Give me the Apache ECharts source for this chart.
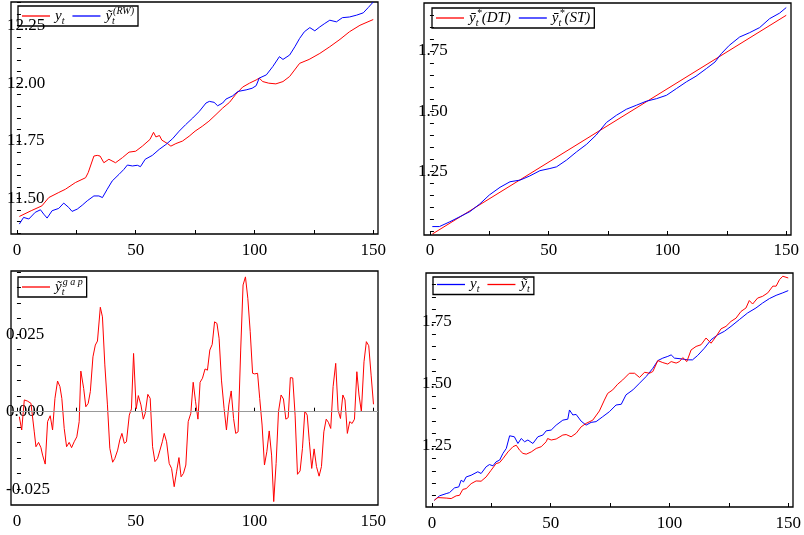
<!DOCTYPE html>
<html><head><meta charset="utf-8">
<script src="https://cdn.jsdelivr.net/npm/echarts@6/dist/echarts.min.js"></script>
<style>html,body{margin:0;padding:0;background:#fff}#c{width:804px;height:535px}</style>
</head><body><div id="c"></div>
<script>
// ---------- Panel 1: y_t and RW ----------
const p1YT = [1,6,10.5,13.4,17.6,20.4,24.6,28.9,30,32.4,33.8,35,36.6,38.7,41.5,44.4,47.2,50,52.8,56,57.5,58.5,60,61,63.4,64.8,66.9,69.7,72.5,75,78,80.8,83.8,86.6,89.5,92,95,97.9,100.7,102,103.5,106,109,112,114.8,119,123,127.5,131.7,136,140,144.4,150];
const p1YV = [11.422,11.447,11.468,11.504,11.526,11.540,11.569,11.590,11.612,11.684,11.687,11.684,11.655,11.670,11.655,11.677,11.701,11.705,11.727,11.756,11.787,11.767,11.773,11.753,11.738,11.727,11.738,11.749,11.770,11.792,11.813,11.835,11.864,11.892,11.917,11.950,11.983,12.000,12.014,12.022,12.007,12.000,11.997,12.007,12.029,12.086,12.103,12.129,12.158,12.190,12.223,12.251,12.276];
const p1RWT = [1,2.8,5,7.7,9.9,11.3,12.7,14.8,17.6,19.7,21.8,23.2,25.4,27.5,29.6,32.4,34.5,36,38,40.1,43,45,46.5,48.6,50.7,52,54,57,59.9,62.7,65.5,68.3,71,74,76.8,79.6,81,83,84.5,86.6,88,90.8,93,96.5,99,100.7,102,105,107.7,110.5,112,114.8,117,119,121,123.3,125.4,127.5,129.6,131.7,134.5,137,140,143,145.8,147.9,150];
const p1RWV = [11.389,11.418,11.411,11.440,11.451,11.432,11.415,11.447,11.457,11.480,11.461,11.444,11.454,11.471,11.490,11.511,11.511,11.504,11.540,11.576,11.605,11.626,11.645,11.641,11.644,11.638,11.670,11.687,11.713,11.734,11.759,11.792,11.820,11.849,11.878,11.914,11.921,11.917,11.902,11.914,11.931,11.945,11.964,11.971,11.978,11.989,12.022,12.036,12.072,12.115,12.103,12.122,12.158,12.194,12.223,12.241,12.227,12.244,12.259,12.273,12.266,12.284,12.287,12.295,12.305,12.328,12.352];
const p1Ticks = [11.35,11.40,11.45,11.50,11.55,11.60,11.65,11.70,11.75,11.80,11.85,11.90,11.95,12.00,12.05,12.10,12.15,12.20,12.25,12.30,12.35];
const p1Labels = [11.50,11.75,12.00,12.25];

// ---------- Panel 2: DT and ST trends ----------
const p2DTT = [1,150];
const p2DTV = [0.990,1.898];
const p2STT = [1,4,8.4,12.6,16.8,21,25,29.5,33.7,38,42,46.3,50.5,53.3,57.5,61.7,66,70,74.3,78.5,82.7,87,91,95.4,99.6,103.8,108,112,116.4,120,122.7,126,130.4,134.6,138.8,143,147.2,150];
const p2STV = [1.021,1.021,1.041,1.062,1.083,1.115,1.152,1.184,1.207,1.214,1.231,1.253,1.262,1.269,1.297,1.331,1.363,1.401,1.453,1.483,1.508,1.525,1.541,1.552,1.566,1.594,1.622,1.645,1.677,1.704,1.739,1.773,1.808,1.826,1.847,1.884,1.907,1.930];
const p2Ticks = [1.00,1.05,1.10,1.15,1.20,1.25,1.30,1.35,1.40,1.45,1.50,1.55,1.60,1.65,1.70,1.75,1.80,1.85,1.90];
const p2Labels = [1.25,1.50,1.75];

// ---------- Panel 3: gap ----------
const p3T = [1.0,2.0,3.1,4.5,5.9,7.3,8.0,9.1,10.1,10.8,11.9,12.9,14.0,15.0,16.0,17.1,18.1,18.9,19.9,20.9,22.0,23.0,24.1,25.2,26.2,26.9,28.1,29.0,30.0,30.9,32.0,33.0,33.9,35.1,36.0,37.0,38.1,39.1,40.3,41.2,42.4,43.3,44.2,45.2,46.1,47.3,48.2,49.1,50.2,51.1,52.2,53.2,54.0,55.1,56.1,57.1,58.1,59.2,60.2,61.2,62.0,63.0,64.1,65.1,66.2,67.2,68.2,69.1,70.1,71.1,72.1,73.2,74.2,75.2,76.2,77.1,78.1,79.2,80.2,81.2,82.2,83.2,84.2,85.1,86.1,87.2,88.2,89.2,90.2,91.2,92.1,93.1,94.2,95.2,96.2,97.2,98.2,99.2,100.1,101.3,102.2,103.2,104.2,105.2,106.2,107.2,108.1,109.1,110.1,111.2,112.2,113.2,114.2,115.1,116.1,117.1,118.1,119.2,120.2,121.2,122.2,123.1,124.1,125.1,126.1,127.2,128.2,129.2,130.2,131.1,132.1,133.1,134.2,135.2,136.2,137.2,138.1,139.1,140.1,141.1,142.1,143.1,144.0,145.0,146.1,147.1,148.1,149.1,150.1];
const p3V = [-0.0016,-0.0059,0.0038,0.0034,0.0027,-0.0065,-0.0113,-0.0099,-0.0116,-0.0140,-0.0169,-0.0032,-0.0013,-0.0059,0.0043,0.0099,0.0081,0.0043,-0.0054,-0.0113,-0.0099,-0.0116,-0.0097,-0.0081,-0.0032,0.0131,0.0075,0.0016,0.0027,0.0065,0.0177,0.0215,0.0228,0.0337,0.0306,0.0151,0.0022,-0.0118,-0.0163,-0.0151,-0.0124,-0.0091,-0.0070,-0.0102,-0.0097,-0.0011,0.0009,0.0188,0.0009,0.0052,0.0022,-0.0024,-0.0005,0.0056,0.0043,-0.0113,-0.0161,-0.0151,-0.0124,-0.0097,-0.0070,-0.0097,-0.0167,-0.0183,-0.0242,-0.0194,-0.0148,-0.0210,-0.0199,-0.0172,-0.0032,-0.0005,0.0095,0.0032,-0.0024,0.0095,0.0108,0.0138,0.0134,0.0199,0.0217,0.0290,0.0285,0.0237,0.0102,0.0011,-0.0059,0.0022,0.0067,-0.0022,-0.0070,-0.0065,0.0199,0.0409,0.0435,0.0366,0.0258,0.0124,0.0122,0.0124,0.0043,-0.0043,-0.0172,-0.0129,-0.0062,-0.0140,-0.0290,-0.0167,0.0000,0.0054,0.0041,-0.0024,-0.0019,0.0110,0.0109,-0.0011,-0.0202,-0.0191,-0.0118,0.0002,-0.0011,-0.0097,-0.0183,-0.0120,-0.0177,-0.0208,-0.0177,-0.0065,-0.0024,-0.0034,-0.0054,0.0081,0.0156,0.0005,-0.0022,0.0054,0.0038,-0.0070,-0.0032,-0.0038,-0.0024,0.0129,0.0054,0.0000,0.0161,0.0226,0.0213,0.0118,0.0024];
const p3Ticks = [-0.025,-0.020,-0.015,-0.010,-0.005,0,0.005,0.010,0.015,0.020,0.025,0.030,0.035,0.040,0.045];
const p3Labels = [-0.025,0,0.025];

// ---------- Panel 4: y_t and y~_t ----------
const p4YT = [1,3.2,6.0,7.4,9.5,11.3,12.3,13.3,14.4,16.5,19.3,20.7,22.8,24.2,25.7,27.0,28.5,29.9,31.3,32.7,34.7,36.2,37.6,39.0,40.4,42.5,44.6,46.7,48.1,50.2,52.3,55.1,57.2,57.9,59.3,60.7,62.8,64.9,67.0,69.1,71.9,74.7,77.5,79.7,81.7,84.6,87.4,90.2,93.0,95.1,97.2,99.3,100.7,102.1,104.9,107.7,109.7,111.9,114.7,117.5,120.3,123.1,125.9,129.4,132.9,136.4,139.2,142.1,144.9,147.7,150];
const p4YV = [1.031,1.049,1.058,1.062,1.081,1.085,1.112,1.105,1.125,1.132,1.146,1.139,1.166,1.175,1.170,1.186,1.193,1.220,1.240,1.291,1.287,1.260,1.280,1.267,1.274,1.260,1.287,1.294,1.311,1.314,1.334,1.354,1.358,1.395,1.375,1.377,1.350,1.334,1.345,1.348,1.368,1.388,1.415,1.418,1.456,1.476,1.503,1.530,1.563,1.594,1.604,1.611,1.617,1.604,1.601,1.597,1.597,1.615,1.644,1.678,1.698,1.712,1.732,1.759,1.786,1.806,1.826,1.844,1.857,1.867,1.876];
const p4TT = [1,2.5,6.0,8.1,10.2,11.6,13.0,14.4,16.5,18.6,20.7,22.8,24.9,27.0,28.5,29.9,32.0,34.1,35.5,36.9,38.3,39.7,41.8,43.9,46.0,48.1,48.7,50.2,52.3,55.1,56.5,58.6,60.7,62.8,64.9,67.7,70.5,72.6,74.0,76.1,78.2,80.3,83.1,85.3,87.4,89.5,91.6,93.0,95.1,97.2,99.3,100.7,102.8,104.2,105.6,107.3,109.1,111.2,113.3,115.4,117.5,119.6,121.7,123.8,125.9,128.0,130.1,132.2,133.6,135.0,137.1,139.2,141.4,143.5,144.9,146.3,147.7,150];
const p4TV = [1.031,1.042,1.040,1.038,1.049,1.051,1.075,1.078,1.098,1.109,1.108,1.125,1.152,1.179,1.183,1.199,1.226,1.247,1.253,1.233,1.220,1.217,1.226,1.240,1.247,1.267,1.280,1.274,1.278,1.294,1.296,1.287,1.301,1.327,1.341,1.354,1.391,1.435,1.462,1.476,1.499,1.516,1.543,1.543,1.526,1.547,1.543,1.550,1.594,1.586,1.580,1.590,1.584,1.590,1.606,1.590,1.637,1.651,1.658,1.685,1.664,1.691,1.722,1.732,1.752,1.765,1.792,1.806,1.836,1.822,1.846,1.853,1.867,1.894,1.894,1.920,1.934,1.927];
const p4Ticks = [1.05,1.10,1.15,1.20,1.25,1.30,1.35,1.40,1.45,1.50,1.55,1.60,1.65,1.70,1.75,1.80,1.85,1.90];
const p4Labels = [1.25,1.50,1.75];

const xTicks = [0,25,50,75,100,125,150];
const xLabels = [0,50,100,150];

const RED = '#ff0000', BLUE = '#0000ff';
const FONT = 'Liberation Serif';
const zip = (t, v) => t.map((x, i) => [x, v[i]]);

const grids = [
  {left: 11, top: 2, width: 367, height: 232},
  {left: 424, top: 3, width: 367, height: 232},
  {left: 11, top: 271, width: 367, height: 234},
  {left: 426, top: 273, width: 367, height: 234}
].map(g => Object.assign({show: true, borderColor: '#000', borderWidth: 1.3, containLabel: false}, g));

function xAxis(i, margin) {
  return {
    type: 'value', gridIndex: i, min: -2.5, max: 152,
    axisLine: {show: false},
    splitLine: {show: false},
    axisTick: {inside: true, length: 4, lineStyle: {color: '#000'}, customValues: xTicks},
    axisLabel: {customValues: xLabels, margin: margin, color: '#000', fontFamily: FONT, fontSize: 17}
  };
}
function yAxis(i, min, max, ticks, labels, dec, margin) {
  return {
    type: 'value', gridIndex: i, min: min, max: max,
    axisLine: {show: false},
    splitLine: {show: false},
    axisTick: {inside: true, length: 4, lineStyle: {color: '#000'}, customValues: ticks},
    axisLabel: {customValues: labels, align: 'left', margin: margin, color: '#000', fontFamily: FONT, fontSize: 17,
      padding: [5, 0, 0, 0],
      formatter: v => Number(v).toFixed(dec)}
  };
}

function line(name, i, data, color) {
  return {name: name, type: 'line', xAxisIndex: i, yAxisIndex: i, data: data, showSymbol: false,
    symbol: 'none', lineStyle: {color: color, width: 1}, itemStyle: {color: color}, animation: false, silent: true};
}

const rich = {
  i: {fontFamily: FONT, fontStyle: 'italic', fontSize: 15, lineHeight: 20, color: '#000'},
  sub: {fontFamily: FONT, fontStyle: 'italic', fontSize: 10, lineHeight: 10, verticalAlign: 'bottom', width: 1, color: '#000'},
  sup: {fontFamily: FONT, fontStyle: 'italic', fontSize: 10, lineHeight: 10, verticalAlign: 'top', color: '#000'},
  subw: {fontFamily: FONT, fontStyle: 'italic', fontSize: 10, lineHeight: 10, verticalAlign: 'bottom', color: '#000'}
};
const legendText = {
  'y1': '{i|y}{subw|t}',
  'rw1': '{i|ỹ}{sub|t}{sup|(RW)}',
  'dt': '{i|ȳ}{sub|t}{sup|*}{i|(DT)}',
  'st': '{i|ȳ}{sub|t}{sup|*}{i|(ST)}',
  'gap': '{i|ỹ}{sub|t}{sup|g a p}',
  'y4': '{i|y}{subw|t}',
  'yt4': '{i|ỹ}{subw|t}'
};
function legend(names, left, top) {
  return {
    data: names, left: left, top: top, orient: 'horizontal',
    icon: 'rect', itemWidth: 28, itemHeight: 1.3, itemGap: 8,
    borderColor: '#000', borderWidth: 1.3, backgroundColor: 'transparent', padding: [0, 4, 0, 4],
    selectedMode: false,
    textStyle: {rich: rich, fontFamily: FONT, fontSize: 15},
    formatter: n => legendText[n]
  };
}

const chart = echarts.init(document.getElementById('c'), null, {renderer: 'canvas'});
chart.setOption({
  animation: false,
  backgroundColor: '#fff',
  grid: grids,
  xAxis: [xAxis(0, 8), xAxis(1, 7), xAxis(2, 8), xAxis(3, 8)],
  yAxis: [
    yAxis(0, 11.346, 12.352, p1Ticks, p1Labels, 2, 4),
    yAxis(1, 0.986, 1.949, p2Ticks, p2Labels, 2, 6),
    yAxis(2, -0.0301, 0.0454, p3Ticks, p3Labels, 3, 5),
    yAxis(3, 1.004, 1.947, p4Ticks, p4Labels, 2, 4)
  ],
  legend: [
    legend(['y1', 'rw1'], 18, 6),
    legend(['dt', 'st'], 432, 8),
    legend(['gap'], 18, 277),
    legend(['y4', 'yt4'], 433, 277)
  ],
  series: [
    line('y1', 0, zip(p1YT, p1YV), RED),
    line('rw1', 0, zip(p1RWT, p1RWV), BLUE),
    line('dt', 1, zip(p2DTT, p2DTV), RED),
    line('st', 1, zip(p2STT, p2STV), BLUE),
    Object.assign(line('gap', 2, zip(p3T, p3V), RED), {
      markLine: {silent: true, symbol: 'none', label: {show: false},
        lineStyle: {color: '#999', width: 1, type: 'solid'}, data: [{yAxis: 0}]}
    }),
    line('y4', 3, zip(p4YT, p4YV), BLUE),
    line('yt4', 3, zip(p4TT, p4TV), RED)
  ]
});
</script></body></html>
